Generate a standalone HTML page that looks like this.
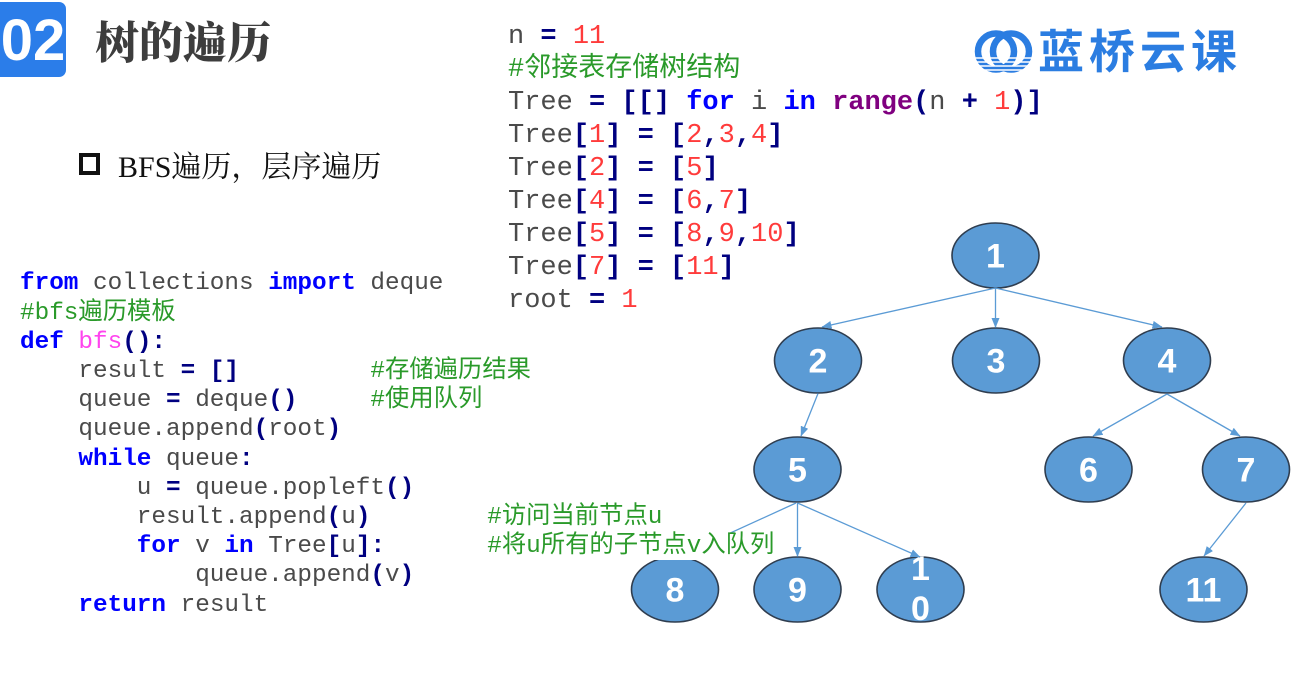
<!DOCTYPE html>
<html>
<head>
<meta charset="utf-8">
<style>
html,body{margin:0;padding:0;background:#fff;}
body{width:1303px;height:673px;position:relative;overflow:hidden;}
svg.full{position:absolute;left:0;top:0;z-index:1;}
pre{position:absolute;margin:0;padding:0;z-index:2;white-space:pre;
 font-family:"Liberation Mono","Noto Sans CJK SC",monospace;color:#4a4a4a;}
#top{left:508px;top:21px;font-size:27px;line-height:33px;}
#bot{left:20px;top:269.4px;font-size:24.33px;line-height:29.2px;}
.k{color:#0000ff;font-weight:bold;}
.o{color:#000080;font-weight:bold;}
.n{color:#ff3b3b;}
.c{color:#2a9a2a;}
.p{color:#800080;font-weight:bold;}
.f{color:#ff44ee;}
.w{background:#fff;}
</style>
</head>
<body>
<svg class="full" width="1303" height="673" viewBox="0 0 1303 673" xmlns="http://www.w3.org/2000/svg">
 <defs>
  <marker id="a" markerWidth="10" markerHeight="8" refX="9.5" refY="4" orient="auto" markerUnits="userSpaceOnUse">
   <path d="M0,0 L10,4 L0,8 z" fill="#5b9bd5"/>
  </marker>
 </defs>
 <!-- header -->
 <rect x="-8" y="2" width="74" height="75" rx="7" fill="#2b7de9"/>
 <text x="33" y="60" text-anchor="middle" font-family="Liberation Sans, sans-serif" font-weight="bold" font-size="58" fill="#fff">02</text>
 <text x="95" y="58" font-family="Noto Serif CJK SC, serif" font-weight="900" font-size="44" fill="#3d3d3d">树的遍历</text>
 <rect x="81" y="155" width="17" height="18" fill="none" stroke="#111" stroke-width="4"/>
 <text x="118" y="177" font-family="Liberation Serif, Noto Serif CJK SC, serif" font-size="30" fill="#111">BFS遍历，层序遍历</text>
 <!-- logo -->
 <g fill="none" stroke="#2b7de1" stroke-width="6.5">
  <circle cx="996" cy="51.5" r="18"/>
  <circle cx="1011" cy="51.5" r="18"/>
 </g>
 <g stroke="#fff" stroke-width="1.6">
  <line x1="972" y1="58" x2="1035" y2="58"/>
  <line x1="972" y1="62" x2="1035" y2="62"/>
  <line x1="972" y1="66" x2="1035" y2="66"/>
  <line x1="972" y1="70" x2="1035" y2="70"/>
 </g>
 <text x="1038" y="68" font-family="Noto Sans CJK SC, sans-serif" font-weight="bold" font-size="46" letter-spacing="5" fill="#2b7de1">蓝桥云课</text>
 <!-- nodes -->
 <g fill="#5b9bd5" stroke="#2f3d4f" stroke-width="1.6">
  <ellipse cx="995.5" cy="255.5" rx="43.5" ry="32.5"/>
  <ellipse cx="818" cy="360.5" rx="43.5" ry="32.5"/>
  <ellipse cx="996" cy="360.5" rx="43.5" ry="32.5"/>
  <ellipse cx="1167" cy="360.5" rx="43.5" ry="32.5"/>
  <ellipse cx="797.5" cy="469.5" rx="43.5" ry="32.5"/>
  <ellipse cx="1088.5" cy="469.5" rx="43.5" ry="32.5"/>
  <ellipse cx="1246" cy="469.5" rx="43.5" ry="32.5"/>
  <ellipse cx="675" cy="589.5" rx="43.5" ry="32.5"/>
  <ellipse cx="797.5" cy="589.5" rx="43.5" ry="32.5"/>
  <ellipse cx="920.5" cy="589.5" rx="43.5" ry="32.5"/>
  <ellipse cx="1203.5" cy="589.5" rx="43.5" ry="32.5"/>
 </g>
 <g font-family="Liberation Sans, sans-serif" font-weight="bold" font-size="34" fill="#fff" text-anchor="middle">
  <text x="995.5" y="267.5">1</text>
  <text x="818" y="372.5">2</text>
  <text x="996" y="372.5">3</text>
  <text x="1167" y="372.5">4</text>
  <text x="797.5" y="481.5">5</text>
  <text x="1088.5" y="481.5">6</text>
  <text x="1246" y="481.5">7</text>
  <text x="675" y="601.5">8</text>
  <text x="797.5" y="601.5">9</text>
  <text x="920.5" y="580">1</text>
  <text x="920.5" y="620">0</text>
  <text x="1203.5" y="601.5">11</text>
 </g>
 <!-- edges -->
 <g stroke="#5b9bd5" stroke-width="1.3" fill="none" marker-end="url(#a)">
  <line x1="995.5" y1="288" x2="822" y2="327"/>
  <line x1="995.5" y1="288" x2="995.5" y2="327.5"/>
  <line x1="995.5" y1="288" x2="1162" y2="327"/>
  <line x1="818" y1="393.5" x2="801" y2="436"/>
  <line x1="1167" y1="394" x2="1093" y2="436"/>
  <line x1="1167" y1="394" x2="1240" y2="436"/>
  <line x1="796" y1="503" x2="680" y2="556"/>
  <line x1="797.5" y1="503" x2="797.5" y2="556.5"/>
  <line x1="797.5" y1="503" x2="920" y2="557"/>
  <line x1="1246" y1="503" x2="1204" y2="556"/>
 </g>
</svg>
<pre id="top">n <span class="o">=</span> <span class="n">11</span>
<span class="c">#邻接表存储树结构</span>
Tree <span class="o">= [[]</span> <span class="k">for</span> i <span class="k">in</span> <span class="p">range</span><span class="o">(</span>n <span class="o">+</span> <span class="n">1</span><span class="o">)]</span>
Tree<span class="o">[</span><span class="n">1</span><span class="o">] = [</span><span class="n">2</span><span class="o">,</span><span class="n">3</span><span class="o">,</span><span class="n">4</span><span class="o">]</span>
Tree<span class="o">[</span><span class="n">2</span><span class="o">] = [</span><span class="n">5</span><span class="o">]</span>
Tree<span class="o">[</span><span class="n">4</span><span class="o">] = [</span><span class="n">6</span><span class="o">,</span><span class="n">7</span><span class="o">]</span>
Tree<span class="o">[</span><span class="n">5</span><span class="o">] = [</span><span class="n">8</span><span class="o">,</span><span class="n">9</span><span class="o">,</span><span class="n">10</span><span class="o">]</span>
Tree<span class="o">[</span><span class="n">7</span><span class="o">] = [</span><span class="n">11</span><span class="o">]</span>
root <span class="o">=</span> <span class="n">1</span></pre>
<pre id="bot"><span class="k">from</span> collections <span class="k">import</span> deque
<span class="c">#bfs遍历模板</span>
<span class="k">def</span> <span class="f">bfs</span><span class="o">():</span>
    result <span class="o">= []</span>         <span class="c">#存储遍历结果</span>
    queue <span class="o">=</span> deque<span class="o">()</span>     <span class="c">#使用队列</span>
    queue.append<span class="o">(</span>root<span class="o">)</span>
    <span class="k">while</span> queue<span class="o">:</span>
        u <span class="o">=</span> queue.popleft<span class="o">()</span>
        result.append<span class="o">(</span>u<span class="o">)</span>        <span class="c w">#访问当前节点u</span>
        <span class="k">for</span> v <span class="k">in</span> Tree<span class="o">[</span>u<span class="o">]:</span>       <span class="c w">#将u所有的子节点v入队列</span>
            queue.append<span class="o">(</span>v<span class="o">)</span>
    <span class="k">return</span> result</pre>
</body>
</html>
